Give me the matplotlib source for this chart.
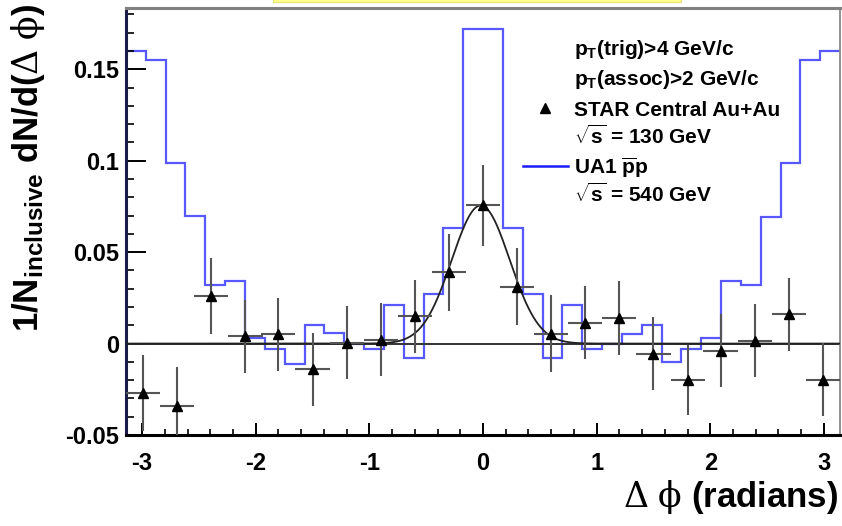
import numpy as np
import matplotlib
matplotlib.use("Agg")
import matplotlib.pyplot as plt
from matplotlib.lines import Line2D
from matplotlib.patches import Rectangle
from matplotlib.ticker import MultipleLocator

plt.rcParams['font.family'] = ['Liberation Sans', 'DejaVu Sans']
plt.rcParams['font.weight'] = 'bold'
plt.rcParams['mathtext.fontset'] = 'custom'
plt.rcParams['mathtext.bf'] = 'Liberation Sans:bold'
plt.rcParams['mathtext.rm'] = 'DejaVu Serif:normal'
plt.rcParams['mathtext.it'] = 'Liberation Sans:italic:normal'

# STAR central Au+Au, 21 bins in delta phi
star_phi = [-2.99, -2.69, -2.39, -2.09, -1.80, -1.50, -1.20, -0.90, -0.60, -0.30, 0.00,
            0.30, 0.60, 0.90, 1.20, 1.50, 1.80, 2.09, 2.39, 2.69, 2.99]
star_val = [-0.027, -0.034, 0.026, 0.004, 0.005, -0.014, 0.0005, 0.002, 0.015, 0.039, 0.0755,
            0.031, 0.0055, 0.0115, 0.014, -0.0055, -0.020, -0.004, 0.0016, 0.016, -0.0197]
star_err = [0.021, 0.021, 0.021, 0.020, 0.020, 0.020, 0.020, 0.020, 0.020, 0.021, 0.022,
            0.021, 0.021, 0.020, 0.020, 0.020, 0.019, 0.020, 0.020, 0.020, 0.020]
star_xerr = 0.15

# UA1 p-pbar histogram, 36 bins of 10 degrees
ua1_val = [0.160, 0.155, 0.099, 0.070, 0.032, 0.034, 0.003, -0.003, -0.011, 0.010, 0.006, 0.000,
           -0.003, 0.021, -0.008, 0.027, 0.063, 0.172, 0.172, 0.063, 0.027, -0.008, 0.021, -0.003,
           0.000, 0.005, 0.010, -0.010, -0.003, 0.003, 0.034, 0.032, 0.069, 0.099, 0.155, 0.160]

# gaussian fit to the near-side peak
fit_amp = 0.0755
fit_mean = -0.02
fit_sigma = 0.255

W, H = 842, 526
fig = plt.figure(figsize=(W / 100, H / 100), dpi=100)
ax = fig.add_axes([126 / W, 91 / H, 714 / W, 427 / H])

edges = np.linspace(-np.pi, np.pi, len(ua1_val) + 1)
ax.stairs(ua1_val, edges, color='#5858ff', lw=1.6, baseline=None)

ax.axhline(0, color='#333333', lw=1.4, zorder=2)

xf = np.linspace(-np.pi, np.pi, 600)
yf = fit_amp * np.exp(-(xf - fit_mean) ** 2 / (2 * fit_sigma ** 2))
ax.plot(xf, yf, color='#222222', lw=1.3, zorder=3)

ax.errorbar(star_phi, star_val, yerr=star_err, xerr=star_xerr, fmt='none',
            ecolor='#555555', elinewidth=1.5, zorder=4)
ax.plot(star_phi, star_val, '^', color='black', ms=7.5, zorder=5)

ax.set_xlim(-np.pi, np.pi)
ax.set_ylim(-0.05, 0.1835)

ax.xaxis.set_major_locator(MultipleLocator(1))
ax.xaxis.set_minor_locator(MultipleLocator(0.2))
ax.yaxis.set_major_locator(MultipleLocator(0.05))
ax.yaxis.set_minor_locator(MultipleLocator(0.01))
ax.set_yticks([-0.05, 0, 0.05, 0.1, 0.15])
ax.set_yticklabels(['-0.05', '0', '0.05', '0.1', '0.15'])
ax.set_xticks([-3, -2, -1, 0, 1, 2, 3])
ax.set_xticklabels(['-3', '-2', '-1', '0', '1', '2', '3'])

ax.tick_params(axis='y', which='major', direction='in', length=14.5, width=1.4,
               labelsize=17, pad=5, colors='black')
ax.tick_params(axis='y', which='minor', direction='in', length=6, width=1.2)
ax.tick_params(axis='x', which='major', direction='in', length=9, width=1.4,
               labelsize=17, pad=12)
ax.tick_params(axis='x', which='minor', direction='in', length=4, width=1.2)
for lab in ax.get_xticklabels() + ax.get_yticklabels():
    lab.set_fontweight('bold')

ax.spines['left'].set_color('#1c1c48')
ax.spines['left'].set_linewidth(2.2)
ax.spines['bottom'].set_color('black')
ax.spines['bottom'].set_linewidth(2.2)
ax.spines['top'].set_color('#808080')
ax.spines['top'].set_linewidth(2.2)
ax.spines['right'].set_color('#8a8a8a')
ax.spines['right'].set_linewidth(1.3)

# axis titles
fig.text(28 / W, 1 - 4 / H,
         r'1/$\mathbf{N}_{\mathbf{inclusive}}$ dN/d($\mathrm{\Delta\ \phi}$)',
         rotation=90, ha='center', va='top', fontsize=25, fontweight='bold')
fig.text(838 / W, 1 - 497 / H, r'$\mathrm{\Delta\ \phi}$ (radians)',
         ha='right', va='center', fontsize=25, fontweight='bold')

# legend block
legend_lines = [
    (r'$\mathbf{p}_{\mathbf{T}}$(trig)>4 GeV/c', 55),
    (r'$\mathbf{p}_{\mathbf{T}}$(assoc)>2 GeV/c', 85),
    ('STAR Central Au+Au', 116),
    (r'$\sqrt{\mathbf{s}}$ = 130 GeV', 144),
    (r'UA1 $\overline{\mathbf{p}}\mathbf{p}$', 174),
    (r'$\sqrt{\mathbf{s}}$ = 540 GeV', 202),
]
for txt, yb in legend_lines:
    fig.text(574 / W, 1 - yb / H, txt, ha='left', va='baseline',
             fontsize=15, fontweight='bold')
fig.add_artist(Line2D([545 / W], [1 - 108 / H], marker='^', color='black', ms=6.5,
                      linestyle='none', transform=fig.transFigure))
fig.add_artist(Line2D([523 / W, 568 / W], [1 - 166 / H, 1 - 166 / H], color='#1a1aff',
                      lw=1.8, transform=fig.transFigure))

# title box peeking in at the top edge
fig.add_artist(Rectangle((273 / W, 1 - 2 / H), 408 / W, 4 / H, transform=fig.transFigure,
                         facecolor='#ffff8c', edgecolor='#e8e070', lw=0.8))

fig.savefig('out.png', dpi=100)
